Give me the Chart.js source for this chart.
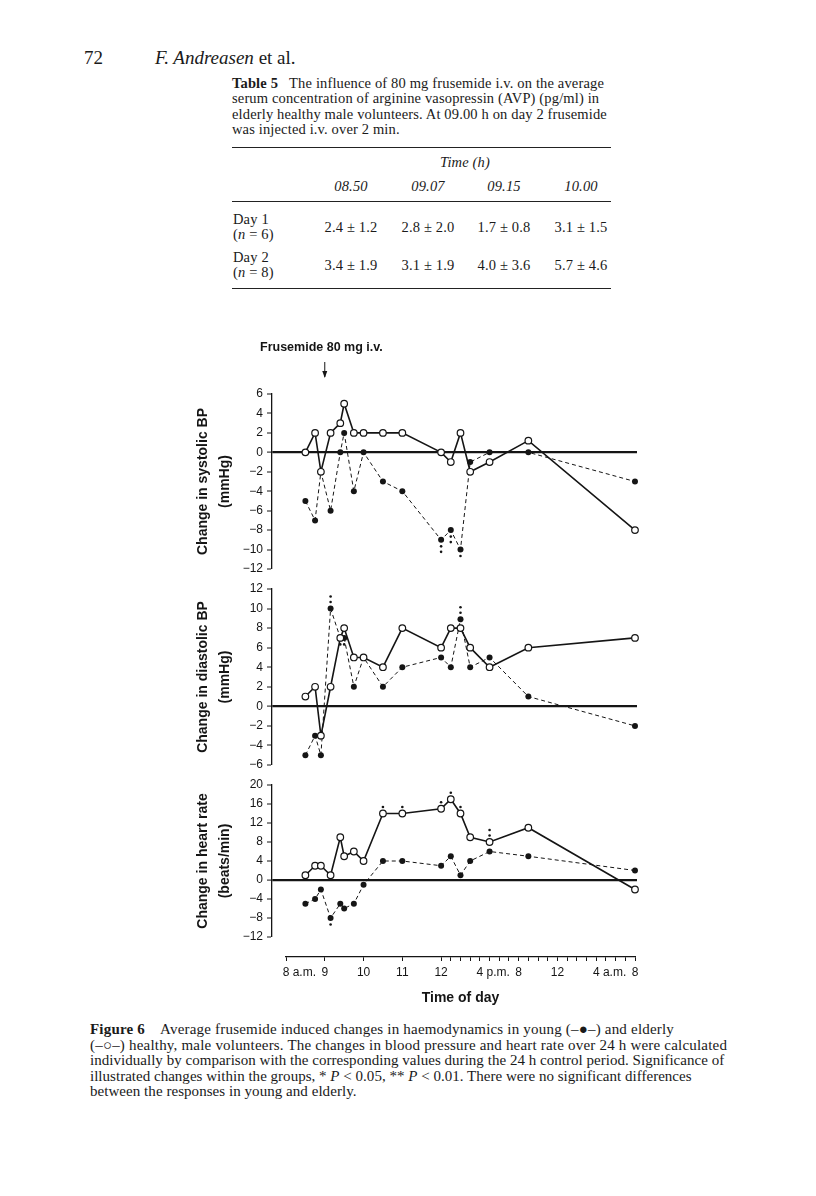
<!DOCTYPE html>
<html lang="en">
<head>
<meta charset="UTF-8">
<title>Figure 6 - frusemide haemodynamics</title>
<script src="https://cdn.jsdelivr.net/npm/chart.js"></script>
<style>
  body { margin: 0; background: #fff; }
  #page { position: relative; width: 816px; height: 1196px; background: #fff; overflow: hidden;
          color: #1a1a1a; font-family: "Liberation Serif", "Times New Roman", serif; }
  .t { position: absolute; white-space: nowrap; }
  .c { transform: translateX(-50%); }
  .tb { font-size: 14.5px; letter-spacing: 0.15px; }
  .cap span { display: block; }
  .rule { position: absolute; left: 232px; width: 379px; height: 0; border-top: 1.5px solid #222; }
  canvas { position: absolute; left: 0; }
</style>
</head>
<body>
<div id="page">
  <!-- page header -->
  <div class="t" style="left:84px; top:48px; font-size:19px; line-height:20px;">72</div>
  <div class="t" style="left:155px; top:48px; font-size:19px; line-height:20px;"><i>F. Andreasen</i> et al.</div>

  <!-- table 5 -->
  <div class="t tb" style="left:232px; top:76px; line-height:15.4px;">
    <b>Table 5</b>&nbsp;&nbsp; The influence of 80 mg frusemide i.v. on the average<br>
    serum concentration of arginine vasopressin (AVP) (pg/ml) in<br>
    elderly healthy male volunteers. At 09.00 h on day 2 frusemide<br>
    was injected i.v. over 2 min.
  </div>
  <div class="rule" style="top:147px;"></div>
  <div class="t c tb" style="left:465px; top:154px; line-height:16px;"><i>Time (h)</i></div>
  <div class="t c tb" style="left:351px; top:178px; line-height:16px;"><i>08.50</i></div>
  <div class="t c tb" style="left:428px; top:178px; line-height:16px;"><i>09.07</i></div>
  <div class="t c tb" style="left:504px; top:178px; line-height:16px;"><i>09.15</i></div>
  <div class="t c tb" style="left:581px; top:178px; line-height:16px;"><i>10.00</i></div>
  <div class="rule" style="top:201px;"></div>
  <div class="t tb" style="left:233px; top:212px; line-height:15px;">Day 1<br>(<i>n</i> = 6)</div>
  <div class="t c tb" style="left:351px; top:219px; line-height:16px;">2.4 ± 1.2</div>
  <div class="t c tb" style="left:428px; top:219px; line-height:16px;">2.8 ± 2.0</div>
  <div class="t c tb" style="left:504px; top:219px; line-height:16px;">1.7 ± 0.8</div>
  <div class="t c tb" style="left:581px; top:219px; line-height:16px;">3.1 ± 1.5</div>
  <div class="t tb" style="left:233px; top:250px; line-height:15px;">Day 2<br>(<i>n</i> = 8)</div>
  <div class="t c tb" style="left:351px; top:257px; line-height:16px;">3.4 ± 1.9</div>
  <div class="t c tb" style="left:428px; top:257px; line-height:16px;">3.1 ± 1.9</div>
  <div class="t c tb" style="left:504px; top:257px; line-height:16px;">4.0 ± 3.6</div>
  <div class="t c tb" style="left:581px; top:257px; line-height:16px;">5.7 ± 4.6</div>
  <div class="rule" style="top:288px;"></div>

  <!-- figure -->
  <canvas id="sysChart" width="816" height="260" style="top:330px; width:816px; height:260px;"></canvas>
  <canvas id="diaChart" width="816" height="210" style="top:575px; width:816px; height:210px;"></canvas>
  <canvas id="hrChart" width="816" height="180" style="top:770px; width:816px; height:180px;"></canvas>
  <canvas id="timeAxis" width="816" height="75" style="top:940px; width:816px; height:75px;"></canvas>

  <!-- figure caption -->
  <div class="t cap" style="left:90px; top:1022px; font-size:15px; line-height:15.5px;">
    <span style="letter-spacing:0.2px;"><b>Figure 6</b>&nbsp;&nbsp;&nbsp; Average frusemide induced changes in haemodynamics in young (‒●‒) and elderly</span>
    <span style="letter-spacing:0.2px;">(‒○‒) healthy, male volunteers. The changes in blood pressure and heart rate over 24 h were calculated</span>
    <span style="letter-spacing:0.03px;">individually by comparison with the corresponding values during the 24 h control period. Significance of</span>
    <span style="letter-spacing:0.02px;">illustrated changes within the groups, * <i>P</i> &lt; 0.05, ** <i>P</i> &lt; 0.01. There were no significant differences</span>
    <span style="letter-spacing:0.05px;">between the responses in young and elderly.</span>
  </div>
</div>

<script>
    // Measurement times, clock hours (32 = 8 a.m. next day)
    const hours = [8.5, 8.75, 8.9, 9.15, 9.4, 9.5, 9.75, 10, 10.5, 11, 12, 13, 14, 15, 17, 21, 32];

    // Systolic BP change (mmHg)
    const sysElderly = [0, 2, -2, 2, 3, 5, 2, 2, 2, 2, 0, -1, 2, -2, -1, 1.2, -8];
    const sysYoung = [-5, -7, -2, -6, 0, 2, -4, 0, -3, -4, -9, -8, -10, -1, 0, 0, -3];
    // Diastolic BP change (mmHg)
    const diaElderly = [1, 2, -3, 2, 7, 8, 5, 5, 4, 8, 6, 8, 8, 6, 4, 6, 7];
    const diaYoung = [-5, -3, -5, 10, 7, 7, 2, 5, 2, 4, 5, 4, 8.9, 4, 5, 1, -2];
    // Heart rate change (beats/min)
    const hrElderly = [1, 3, 3, 1, 9, 5, 6, 4, 14, 14, 15, 17, 14, 9, 8, 11, -2];
    const hrYoung = [-5, -4, -2, -8, -5, -6, -5, -1, 4, 4, 3, 5, 1, 4, 6, 5, 2];

    // Significance marks: number of asterisks, + above the point, - below
    const sysYoungSig = [0, 0, 0, 0, 0, 0, 0, 0, 0, 0, -2, -2, -1, 0, 0, 0, 0];
    const diaYoungSig = [0, 0, 0, 2, -1, -1, 0, 0, 0, 0, 0, 0, 2, 0, 0, 0, 0];
    const hrElderlySig = [0, 0, 0, 0, 0, 0, 0, 0, 1, 1, 1, 1, 1, 0, 2, 0, 0];
    const hrYoungSig = [0, 0, 0, -1, 0, 0, 0, 0, 0, 0, 0, 0, 0, 0, 0, 0, 0];

    // Time axis tick labels (one per major tick)
    const timeLabels = ['8 a.m.', '9', '10', '11', '12', '4 p.m.', '8', '12', '4 a.m.', '8'];

    const SANS = '"Liberation Sans", Arial, sans-serif';
    const INK = '#151515';

    // the time axis is broken: hourly before noon, 4 h per unit after noon
    function axisPos(h) {
        return h <= 12 ? h - 8 : 4 + (h - 12) / 4;
    }

    function minusSign(v) {
        return v < 0 ? '\u2212' + Math.abs(v) : String(v);
    }

    // draws the * marks as small dots above or below a point
    const sigPlugin = {
        id: 'sigMarks',
        afterDatasetsDraw(chart) {
            const ctx = chart.ctx;
            ctx.save();
            ctx.fillStyle = INK;
            chart.data.datasets.forEach((ds, i) => {
                if (!ds.sig) return;
                const meta = chart.getDatasetMeta(i);
                ds.sig.forEach((n, j) => {
                    if (!n) return;
                    const pt = meta.data[j];
                    const dir = n > 0 ? -1 : 1;
                    for (let k = 0; k < Math.abs(n); k++) {
                        ctx.beginPath();
                        ctx.arc(pt.x, pt.y + dir * (6.5 + k * 5.5), 1.3, 0, Math.PI * 2);
                        ctx.fill();
                    }
                });
            });
            ctx.restore();
        }
    };

    // "Frusemide 80 mg i.v." with the arrow at 09.00
    const doseMarker = {
        id: 'doseMarker',
        afterDraw(chart) {
            const ctx = chart.ctx;
            const x = chart.scales.x.getPixelForValue(axisPos(9));
            ctx.save();
            ctx.fillStyle = INK;
            ctx.strokeStyle = INK;
            ctx.font = 'bold 12.5px ' + SANS;
            ctx.textAlign = 'left';
            ctx.textBaseline = 'middle';
            ctx.fillText('Frusemide 80 mg i.v.', 260, 18);
            ctx.lineWidth = 1;
            ctx.beginPath();
            ctx.moveTo(x, 32);
            ctx.lineTo(x, 47);
            ctx.stroke();
            ctx.beginPath();
            ctx.moveTo(x - 2.5, 41);
            ctx.lineTo(x + 2.5, 41);
            ctx.lineTo(x, 48);
            ctx.closePath();
            ctx.fill();
            ctx.restore();
        }
    };

    function series(values) {
        return hours.map((h, i) => ({ x: axisPos(h), y: values[i] }));
    }

    function createPanel(id, cfg) {
        const elderly = {
            label: 'Elderly',
            data: series(cfg.elderly),
            sig: cfg.elderlySig,
            showLine: true,
            borderColor: INK,
            borderWidth: 1.6,
            pointRadius: 3.3,
            pointBackgroundColor: '#fff',
            pointBorderColor: INK,
            pointBorderWidth: 1.2,
            clip: false
        };
        const young = {
            label: 'Young',
            data: series(cfg.young),
            sig: cfg.youngSig,
            showLine: true,
            borderColor: INK,
            borderWidth: 1,
            borderDash: [4, 3],
            pointRadius: 3,
            pointBackgroundColor: INK,
            pointBorderColor: INK,
            pointBorderWidth: 0,
            clip: false
        };
        return new Chart(document.getElementById(id), {
            type: 'scatter',
            data: { datasets: [elderly, young] },
            options: {
                responsive: false,
                animation: false,
                events: [],
                layout: { padding: { left: 172, right: 179, top: cfg.padTop, bottom: cfg.padBottom } },
                plugins: { legend: { display: false }, tooltip: { enabled: false } },
                scales: {
                    x: { type: 'linear', display: false, min: -0.361, max: 9.052 },
                    y: {
                        min: cfg.min,
                        max: cfg.max,
                        border: { display: true, color: INK, width: 1.3 },
                        grid: {
                            drawOnChartArea: true,
                            color: c => (c.tick && c.tick.value === 0) ? INK : 'rgba(0,0,0,0)',
                            lineWidth: c => (c.tick && c.tick.value === 0) ? 2.2 : 0,
                            tickColor: INK,
                            tickLength: 5,
                            tickWidth: 1
                        },
                        ticks: {
                            stepSize: cfg.step,
                            padding: 4,
                            color: INK,
                            font: { family: SANS, size: 12 },
                            callback: v => minusSign(v)
                        },
                        title: {
                            display: true,
                            text: cfg.title,
                            color: INK,
                            font: { family: SANS, size: 14, weight: 'bold', lineHeight: 1.6 },
                            padding: { top: 20, bottom: 0 }
                        },
                        afterFit: s => { s.width = 100; }
                    }
                }
            },
            plugins: cfg.plugins
        });
    }

    createPanel('sysChart', {
        elderly: sysElderly, young: sysYoung, elderlySig: null, youngSig: sysYoungSig,
        min: -12, max: 6, step: 2, padTop: 64, padBottom: 21,
        title: ['Change in systolic BP', '(mmHg)'],
        plugins: [sigPlugin, doseMarker]
    });

    createPanel('diaChart', {
        elderly: diaElderly, young: diaYoung, elderlySig: null, youngSig: diaYoungSig,
        min: -6, max: 12, step: 2, padTop: 14, padBottom: 20,
        title: ['Change in diastolic BP', '(mmHg)'],
        plugins: [sigPlugin]
    });

    createPanel('hrChart', {
        elderly: hrElderly, young: hrYoung, elderlySig: hrElderlySig, youngSig: hrYoungSig,
        min: -12, max: 20, step: 4, padTop: 15, padBottom: 13,
        title: ['Change in heart rate', '(beats/min)'],
        plugins: [sigPlugin]
    });

    // shared time axis: labelled ticks at each unit, hourly minor ticks after noon
    const minorHours = [];
    for (let h = 13; h < 32; h++) minorHours.push(h);
    const timeTicks = timeLabels.map((_, i) => i).concat(minorHours.filter(h => h % 4 !== 0).map(axisPos));

    const timeLabelPlugin = {
        id: 'timeLabels',
        afterDraw(chart) {
            const ctx = chart.ctx;
            const s = chart.scales.x;
            ctx.save();
            ctx.fillStyle = INK;
            ctx.font = '12px ' + SANS;
            ctx.textAlign = 'left';
            ctx.textBaseline = 'middle';
            timeLabels.forEach((lab, i) => {
                const px = s.getPixelForValue(i);
                const sp = lab.indexOf(' ');
                const num = sp < 0 ? lab : lab.slice(0, sp);
                const w = ctx.measureText(num).width;
                ctx.fillText(lab, px - w / 2, 33);
            });
            ctx.restore();
        }
    };

    new Chart(document.getElementById('timeAxis'), {
        type: 'scatter',
        data: { datasets: [] },
        options: {
            responsive: false,
            animation: false,
            events: [],
            layout: { padding: { left: 286, right: 181, top: 5, bottom: 0 } },
            plugins: { legend: { display: false }, tooltip: { enabled: false } },
            scales: {
                x: {
                    type: 'linear',
                    min: 0,
                    max: 9,
                    position: 'bottom',
                    afterBuildTicks: s => { s.ticks = timeTicks.map(v => ({ value: v })); },
                    ticks: { display: false },
                    grid: { drawOnChartArea: false, drawTicks: true, tickLength: 4, tickColor: INK, tickWidth: 1 },
                    border: { display: true, color: INK, width: 1.3 },
                    title: {
                        display: true,
                        text: 'Time of day',
                        color: INK,
                        font: { family: SANS, size: 14, weight: 'bold', lineHeight: 1.2 },
                        padding: { top: 0, bottom: 8 }
                    },
                    afterFit: s => { s.height = 58; }
                },
                y: { display: false }
            }
        },
        plugins: [timeLabelPlugin]
    });
</script>
</body>
</html>
